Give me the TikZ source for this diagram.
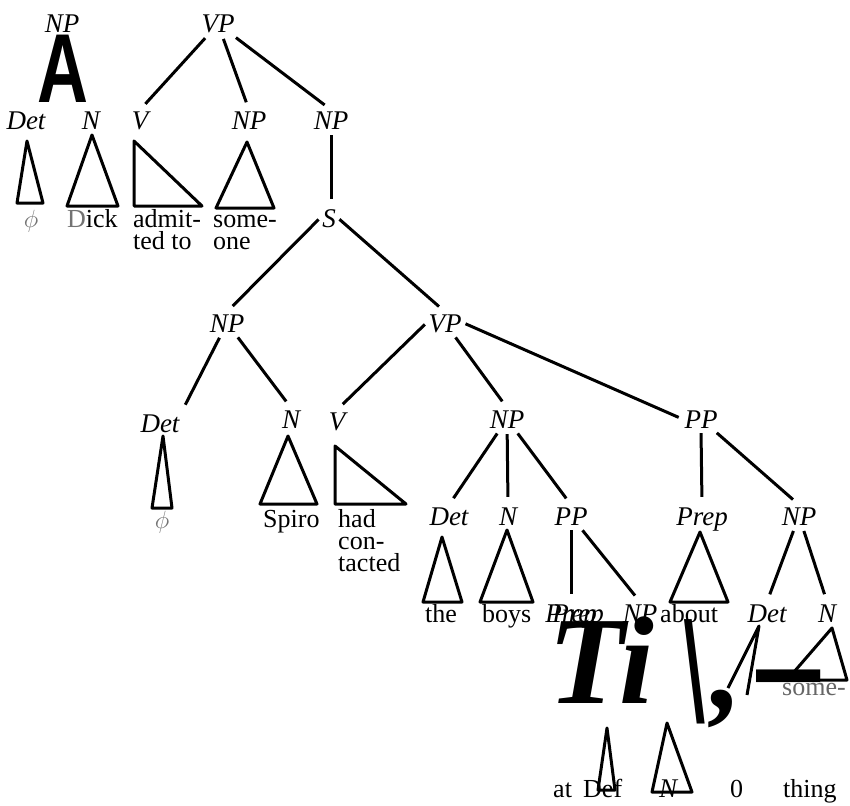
\documentclass[tikz,border=0pt]{standalone}
\usepackage{fontspec}
\setmainfont{Liberation Serif}
\newfontfamily\headsans{Liberation Sans}
\newcommand\wordstack[1]{\vtop{\halign{##\hfil\cr#1\crcr}}}
\begin{document}
\begin{tikzpicture}[x=1pt,y=-1pt,
  cat/.style={font=\fontsize{27}{27}\selectfont\itshape, inner sep=2pt,
              text height=18pt, text depth=0pt, anchor=base},
  word/.style={font=\fontsize{26}{22}\selectfont, inner sep=0pt, anchor=base west},
  greek/.style={font=\fontsize{32}{32}\selectfont, inner sep=0pt, text=black!55},
  branch/.style={line width=3pt, shorten <=4pt, shorten >=8pt},
  tri/.style={line width=3pt, line join=round},
  huge/.style={font=\fontsize{125}{125}\selectfont\bfseries\itshape, inner sep=0pt, anchor=base west}]
\useasboundingbox (0,0) rectangle (850,805);
\fill[white] (0,0) rectangle (850,805);

% upper fragment
\node[cat] (npA) at (62,33) {NP};
\node[cat] (vpA) at (218,33) {VP};
\node[inner sep=0pt, anchor=base west] (bigA) at (37,103)
  {\scalebox{0.72}[1]{\fontsize{98}{98}\selectfont\headsans\bfseries A}};
\node[cat] (detA) at (26,130) {Det};
\node[cat] (nA) at (91,130) {N};
\node[cat] (vA) at (140,130) {V};
\node[cat] (npB) at (249,130) {NP};
\node[cat] (npC) at (331,130) {NP};
\node[cat] (s) at (329,227) {S};

% embedded clause
\node[cat] (npD) at (227,332) {NP};
\node[cat] (vpB) at (445,332) {VP};
\node[cat] (detB) at (160,432) {Det};
\node[cat] (nB) at (291,428) {N};
\node[cat] (vB) at (337,430) {V};
\node[cat] (npE) at (507,428) {NP};
\node[cat] (ppA) at (701,428) {PP};
\node[cat] (detC) at (449,525) {Det};
\node[cat] (nC) at (508,525) {N};
\node[cat] (ppB) at (571,525) {PP};
\node[cat] (prepA) at (702,525) {Prep};
\node[cat] (npF) at (799,525) {NP};
\node[cat] (prepB) at (571,622) {Prep};
\node[cat] (prepBb) at (578,622) {Prep};
\node[cat] (npG) at (640,622) {NP};
\node[cat] (detD) at (767,622) {Det};
\node[cat] (nD) at (827,622) {N};

% branches
\draw[branch] (vpA) -- (vA.north);
\draw[branch] (vpA) -- (npB.north);
\draw[branch] (vpA) -- (npC.north);
\draw[branch, shorten <=3pt] (npC.south) -- (npC.south |- s.north);
\draw[branch, shorten <=2pt] (s.west) -- (npD.north);
\draw[branch, shorten <=2pt] (s.east) -- (vpB.north);
\draw[branch] (npD) -- (detB.north east);
\draw[branch] (npD) -- (nB.north);
\draw[branch, shorten <=2pt] (vpB.west) -- (vB.north);
\draw[branch] (vpB) -- (npE.north);
\draw[branch, shorten <=2pt, shorten >=4pt] (vpB.east) -- (ppA.west);
\draw[branch] (npE) -- (detC.north);
\draw[branch] (npE) -- (nC.north);
\draw[branch] (npE) -- (ppB.north);
\draw[branch, shorten <=3pt] (ppA.south) -- (prepA.north);
\draw[branch] (ppA) -- (npF.north);
\draw[branch, shorten <=3pt] (ppB.south) -- (ppB.south |- prepB.north);
\draw[branch] (ppB) -- (npG.north);
\draw[branch] (npF) -- (detD.north);
\draw[branch] (npF) -- (nD.north);

% abbreviated subtrees
\draw[tri] (27,141) -- (17,203) -- (43,203) -- cycle;
\draw[tri] (92,135) -- (67,206) -- (118,206) -- cycle;
\draw[tri] (134,141) -- (134,206) -- (202,206) -- cycle;
\draw[tri] (247,142) -- (216,208) -- (274,208) -- cycle;
\draw[tri] (163,436) -- (152,508) -- (172,508) -- cycle;
\draw[tri] (288,436) -- (260,504) -- (317,504) -- cycle;
\draw[tri] (335,446) -- (335,504) -- (406,504) -- cycle;
\draw[tri] (442,537) -- (423,602) -- (462,602) -- cycle;
\draw[tri] (507,530) -- (480,602) -- (533,602) -- cycle;
\draw[tri] (700,532) -- (670,602) -- (728,602) -- cycle;
\draw[tri] (728,688) -- (759,626) -- (747,695);
\draw[tri] (832,628) -- (787,680) -- (847,680) -- cycle;
\draw[tri] (607,728) -- (598,790) -- (615,790) -- cycle;
\draw[tri] (667,723) -- (652,792) -- (692,792) -- cycle;

% terminal strings
\node[greek] (phiA) at (31,221) {$\phi$};
\node[word] (dick) at (67,227) {{\color{black!55}D}ick};
\node[word] (admit) at (133,227) {\wordstack{admit-\cr ted to}};
\node[word] (someone) at (213,227) {\wordstack{some-\cr one}};
\node[greek] (phiB) at (162,522) {$\phi$};
\node[word] (spiro) at (263,527) {Spiro};
\node[word] (had) at (338,527) {\wordstack{had\cr con-\cr tacted}};
\node[word] (the) at (425,622) {the};
\node[word] (boys) at (482,622) {boys};
\node[word] (about) at (660,622) {about};
\node[word, text=black!60] (some) at (782,695) {some-};
\node[word] (at) at (553,797) {at};
\node[word] (def) at (583,797) {Def};
\node[cat] (nE) at (668,797) {N};
\node[word] (zero) at (730,797) {0};
\node[word] (thing) at (783,797) {thing};

% overprinted glyphs
\node[huge] (ti) at (548,703) {Ti};
\node[huge] (bslash) at (676,722) {\scalebox{1}[1.25]{\textbackslash}};
\node[huge] (comma) at (711,708) {,};
\node[huge] (dash) at (758,718) {\scalebox{1}[1.45]{–}};
\end{tikzpicture}
\end{document}
